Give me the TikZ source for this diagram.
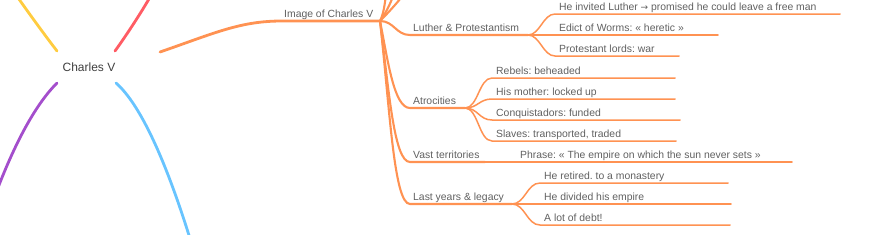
\documentclass[tikz,border=0pt]{standalone}
\usepackage{fontspec}
\setmainfont{Liberation Sans}
\newfontfamily\symfont{DejaVu Sans}
\frenchspacing
\definecolor{orangeB}{RGB}{255,146,82}
\definecolor{yellowB}{RGB}{255,204,64}
\definecolor{redB}{RGB}{255,92,100}
\definecolor{purpleB}{RGB}{164,78,204}
\definecolor{blueB}{RGB}{104,196,255}
\definecolor{txtgray}{RGB}{96,96,96}
\definecolor{rootgray}{RGB}{64,64,64}
\begin{document}
\begin{tikzpicture}[x=1pt, y=-1pt,
  lbl/.style={anchor=base west, inner sep=0pt, font=\fontsize{10.4}{12}\selectfont, text=txtgray},
  rootlbl/.style={inner sep=0pt, font=\fontsize{12}{14}\selectfont, text=rootgray},
  rootbr/.style={line width=2.8pt, line cap=round},
  br/.style={orangeB, line width=2.1pt, line cap=round},
  lf/.style={orangeB, line width=1.5pt, line cap=round},
]
  \useasboundingbox (0,0) rectangle (882,234);
  \clip (0,0) rectangle (882,234);

  % root
  \node[rootlbl] (root) at (89,67) {Charles V};
  \coordinate (rNE) at (160,52);
  \coordinate (rYl) at (57,51);
  \coordinate (rRd) at (115,51);
  \coordinate (rPu) at (57,83);
  \coordinate (rBl) at (116,83);
  \coordinate (yEnd) at (14,-8);
  \coordinate (rEnd) at (153,-8);
  \coordinate (pEnd) at (-12,215);
  \coordinate (bEnd) at (192,245);
  \draw[rootbr, yellowB] (rYl) .. controls (47,38) and (30,15) .. (yEnd);
  \draw[rootbr, redB] (rRd) .. controls (123,40) and (140,15) .. (rEnd);
  \draw[rootbr, purpleB] (rPu) .. controls (38,102) and (14,140) .. (pEnd);
  \draw[rootbr, blueB] (rBl) .. controls (140,104) and (166,160) .. (bEnd);

  % Image of Charles V
  \coordinate (imgA) at (282,21);
  \coordinate (img) at (380,21);
  \node[lbl] (tImg) at (284,17) {Image of Charles V};
  \draw[rootbr, orangeB] (rNE) .. controls (215,33) and (240,21) .. (imgA) -- (img);

  % branches going up (cut off)
  \coordinate (up1) at (386,-6);
  \coordinate (up2) at (394,-6);
  \coordinate (up3) at (404,-6);
  \draw[br] (img) .. controls +(4,-8) and +(-1,8) .. (up1);
  \draw[br] (img) .. controls +(6,-8) and +(-3,8) .. (up2);
  \draw[br] (img) .. controls +(8,-8) and +(-6,8) .. (up3);

  % Luther & Protestantism
  \coordinate (luA) at (410,35);
  \coordinate (lu) at (528,35);
  \node[lbl] (tLu) at (413,31) {Luther \& Protestantism};
  \draw[br] (img) .. controls +(14,0) and +(-14,0) .. (luA) -- (lu);
  \coordinate (lu1A) at (555,14);  \coordinate (lu1) at (840,14);
  \coordinate (lu2A) at (555,35);  \coordinate (lu2) at (718,35);
  \coordinate (lu3A) at (555,56);  \coordinate (lu3) at (679,56);
  \node[lbl] (tLu1) at (559,10) {He invited Luther {\symfont\fontsize{9}{12}\selectfont →} promised he could leave a free man};
  \node[lbl] (tLu2) at (559,31) {Edict of Worms: « heretic »};
  \node[lbl] (tLu3) at (559,52) {Protestant lords: war};
  \draw[lf] (lu) .. controls +(12,0) and +(-12,0) .. (lu1A) -- (lu1);
  \draw[lf] (lu) -- (lu2);
  \draw[lf] (lu) .. controls +(12,0) and +(-12,0) .. (lu3A) -- (lu3);

  % Atrocities
  \coordinate (atA) at (410,108);
  \coordinate (at) at (465,108);
  \node[lbl] (tAt) at (413,104) {Atrocities};
  \draw[br] (img) .. controls +(8,40) and +(-16,0) .. (atA) -- (at);
  \coordinate (at1A) at (492,78);   \coordinate (at1) at (675,78);
  \coordinate (at2A) at (492,99);   \coordinate (at2) at (675,99);
  \coordinate (at3A) at (492,120);  \coordinate (at3) at (680,120);
  \coordinate (at4A) at (492,141);  \coordinate (at4) at (676,141);
  \node[lbl] (tAt1) at (496,74) {Rebels: beheaded};
  \node[lbl] (tAt2) at (496,95) {His mother: locked up};
  \node[lbl] (tAt3) at (496,116) {Conquistadors: funded};
  \node[lbl] (tAt4) at (496,137) {Slaves: transported, traded};
  \draw[lf] (at) .. controls +(13,0) and +(-13,0) .. (at1A) -- (at1);
  \draw[lf] (at) .. controls +(13,0) and +(-13,0) .. (at2A) -- (at2);
  \draw[lf] (at) .. controls +(13,0) and +(-13,0) .. (at3A) -- (at3);
  \draw[lf] (at) .. controls +(13,0) and +(-13,0) .. (at4A) -- (at4);

  % Vast territories
  \coordinate (vaA) at (410,162);
  \coordinate (va) at (485,162);
  \node[lbl] (tVa) at (413,158) {Vast territories};
  \draw[br] (img) .. controls +(9,70) and +(-16,0) .. (vaA) -- (va);
  \coordinate (va1) at (792,162);
  \node[lbl] (tVa1) at (520,158) {Phrase: « The empire on which the sun never sets »};
  \draw[lf] (va) -- (va1);

  % Last years & legacy
  \coordinate (lyA) at (410,204);
  \coordinate (ly) at (512,204);
  \node[lbl] (tLy) at (413,200) {Last years \& legacy};
  \draw[br] (img) .. controls +(10,90) and +(-16,0) .. (lyA) -- (ly);
  \coordinate (ly1A) at (540,183);  \coordinate (ly1) at (728,183);
  \coordinate (ly2) at (731,204);
  \coordinate (ly3A) at (540,225);  \coordinate (ly3) at (730,225);
  \node[lbl] (tLy1) at (544,179) {He retired. to a monastery};
  \node[lbl] (tLy2) at (544,200) {He divided his empire};
  \node[lbl] (tLy3) at (544,221) {A lot of debt!};
  \draw[lf] (ly) .. controls +(13,0) and +(-13,0) .. (ly1A) -- (ly1);
  \draw[lf] (ly) -- (ly2);
  \draw[lf] (ly) .. controls +(13,0) and +(-13,0) .. (ly3A) -- (ly3);
\end{tikzpicture}
\end{document}
